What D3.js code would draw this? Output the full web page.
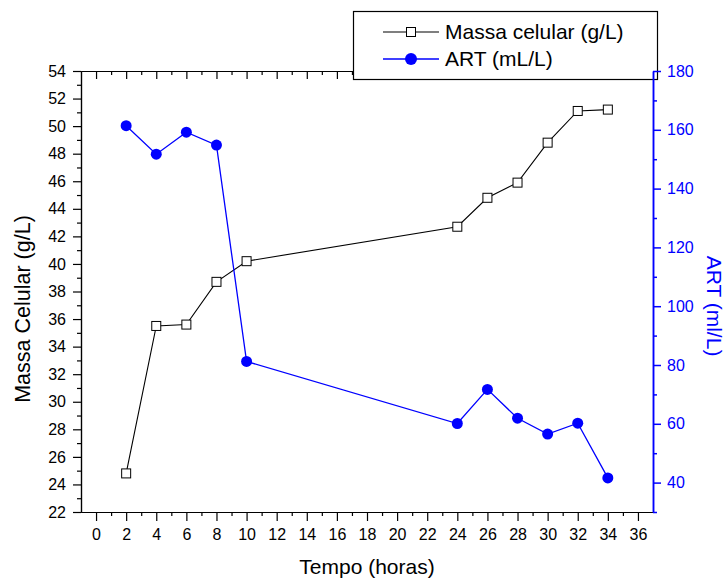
<!DOCTYPE html>
<html>
<head>
<meta charset="utf-8">
<script src="https://cdn.jsdelivr.net/npm/d3@7"></script>
<style>
  body { margin: 0; background: #fff; }
  svg { display: block; font-family: "Liberation Sans", Arial, sans-serif; }
</style>
</head>
<body>
<svg id="grafico" width="728" height="581"></svg>
<script>
// dados
let tempo = [2, 4, 6, 8, 10, 24, 26, 28, 30, 32, 34];
let massaCelular = [24.8, 35.5, 35.6, 38.7, 40.2, 42.7, 44.8, 45.9, 48.8, 51.1, 51.2];
let art = [161.4, 151.7, 159.2, 154.8, 81.2, 60.1, 71.7, 61.9, 56.5, 60.2, 41.6];

let ticksX = d3.range(0, 37, 2);
let ticksXMenor = d3.range(1, 37, 2);
let ticksEsq = d3.range(22, 55, 2);
let ticksEsqMenor = d3.range(23, 54, 2);
let ticksDir = d3.range(40, 181, 20);
let ticksDirMenor = d3.range(30, 180, 20);

let azul = "#0000ff";
let svg = d3.select("#grafico");

let esq = 81, dir = 653, topo = 71, base = 512;

let x = d3.scaleLinear().domain([-1, 37]).range([esq, dir]);
let yEsq = d3.scaleLinear().domain([22, 54]).range([base, topo]);
let yDir = d3.scaleLinear().domain([30, 180]).range([base, topo]);

// eixo de cima (ticks para dentro)
let gTopo = svg.append("g").attr("transform", "translate(0," + topo + ")");
gTopo.call(d3.axisBottom(x).tickValues(ticksX).tickSize(8).tickSizeOuter(0).tickFormat(""));
gTopo.append("g").call(d3.axisBottom(x).tickValues(ticksXMenor).tickSize(4).tickSizeOuter(0).tickFormat(""));

// eixo de baixo
let gBase = svg.append("g").attr("transform", "translate(0," + base + ")");
gBase.call(d3.axisBottom(x).tickValues(ticksX).tickSize(9).tickSizeOuter(0).tickPadding(8));
gBase.append("g").call(d3.axisBottom(x).tickValues(ticksXMenor).tickSize(4).tickSizeOuter(0).tickFormat(""));

// eixo da esquerda
let gEsq = svg.append("g").attr("transform", "translate(" + esq + ",0)");
gEsq.call(d3.axisLeft(yEsq).tickValues(ticksEsq).tickSize(8).tickSizeOuter(0).tickPadding(7));
gEsq.append("g").call(d3.axisLeft(yEsq).tickValues(ticksEsqMenor).tickSize(4).tickSizeOuter(0).tickFormat(""));

svg.selectAll(".tick text").attr("font-size", 16).attr("font-family", "Liberation Sans, Arial, sans-serif").attr("fill", "#000");
svg.selectAll(".domain, .tick line").attr("stroke", "#000").attr("stroke-width", 1.2);

// linhas e marcadores
let linha = d3.line().x((d, i) => x(tempo[i]));

svg.append("path")
    .datum(massaCelular)
    .attr("d", linha.y(d => yEsq(d)))
    .attr("fill", "none")
    .attr("stroke", "#000")
    .attr("stroke-width", 1.1);

svg.append("path")
    .datum(art)
    .attr("d", d3.line().x((d, i) => x(tempo[i])).y(d => yDir(d)))
    .attr("fill", "none")
    .attr("stroke", azul)
    .attr("stroke-width", 1.3);

svg.append("g").selectAll("rect")
    .data(massaCelular)
    .enter().append("rect")
    .attr("x", (d, i) => x(tempo[i]) - 4.5)
    .attr("y", d => yEsq(d) - 4.5)
    .attr("width", 9)
    .attr("height", 9)
    .attr("fill", "#fff")
    .attr("stroke", "#000")
    .attr("stroke-width", 1);

svg.append("g").selectAll("circle")
    .data(art)
    .enter().append("circle")
    .attr("cx", (d, i) => x(tempo[i]))
    .attr("cy", d => yDir(d))
    .attr("r", 5.5)
    .attr("fill", azul);

// legenda
let leg = svg.append("g");
leg.append("rect")
    .attr("x", 353.5).attr("y", 11.5)
    .attr("width", 304).attr("height", 68)
    .attr("fill", "#fff").attr("stroke", "#000").attr("stroke-width", 1.2);
leg.append("line").attr("x1", 383).attr("x2", 439).attr("y1", 32).attr("y2", 32)
    .attr("stroke", "#000").attr("stroke-width", 1.1);
leg.append("rect").attr("x", 406.5).attr("y", 27.5).attr("width", 9).attr("height", 9)
    .attr("fill", "#fff").attr("stroke", "#000");
leg.append("line").attr("x1", 383).attr("x2", 439).attr("y1", 59).attr("y2", 59)
    .attr("stroke", azul).attr("stroke-width", 1.3);
leg.append("circle").attr("cx", 411).attr("cy", 59).attr("r", 6).attr("fill", azul);
leg.append("text").attr("x", 445).attr("y", 38.5).attr("font-size", 21).text("Massa celular (g/L)");
leg.append("text").attr("x", 445).attr("y", 66).attr("font-size", 21).text("ART (mL/L)");

// eixo da direita (azul), por cima da legenda
let gDir = svg.append("g").attr("transform", "translate(" + dir + ",0)");
gDir.call(d3.axisRight(yDir).tickValues(ticksDir).tickSize(8).tickSizeOuter(0).tickPadding(6));
gDir.append("g").call(d3.axisRight(yDir).tickValues(ticksDirMenor).tickSize(4).tickSizeOuter(0).tickFormat(""));
gDir.selectAll(".domain, .tick line").attr("stroke", azul).attr("stroke-width", 1.5);
gDir.selectAll(".tick text").attr("font-size", 16).attr("font-family", "Liberation Sans, Arial, sans-serif").attr("fill", azul);

// títulos dos eixos
svg.append("text")
    .attr("x", (esq + dir) / 2).attr("y", 574)
    .attr("text-anchor", "middle").attr("font-size", 21)
    .text("Tempo (horas)");

svg.append("text")
    .attr("transform", "translate(30,309) rotate(-90)")
    .attr("text-anchor", "middle").attr("font-size", 21.5)
    .text("Massa Celular (g/L)");

svg.append("text")
    .attr("transform", "translate(707,306) rotate(90)")
    .attr("text-anchor", "middle").attr("font-size", 21)
    .attr("fill", azul)
    .text("ART (ml/L)");
</script>
</body>
</html>
